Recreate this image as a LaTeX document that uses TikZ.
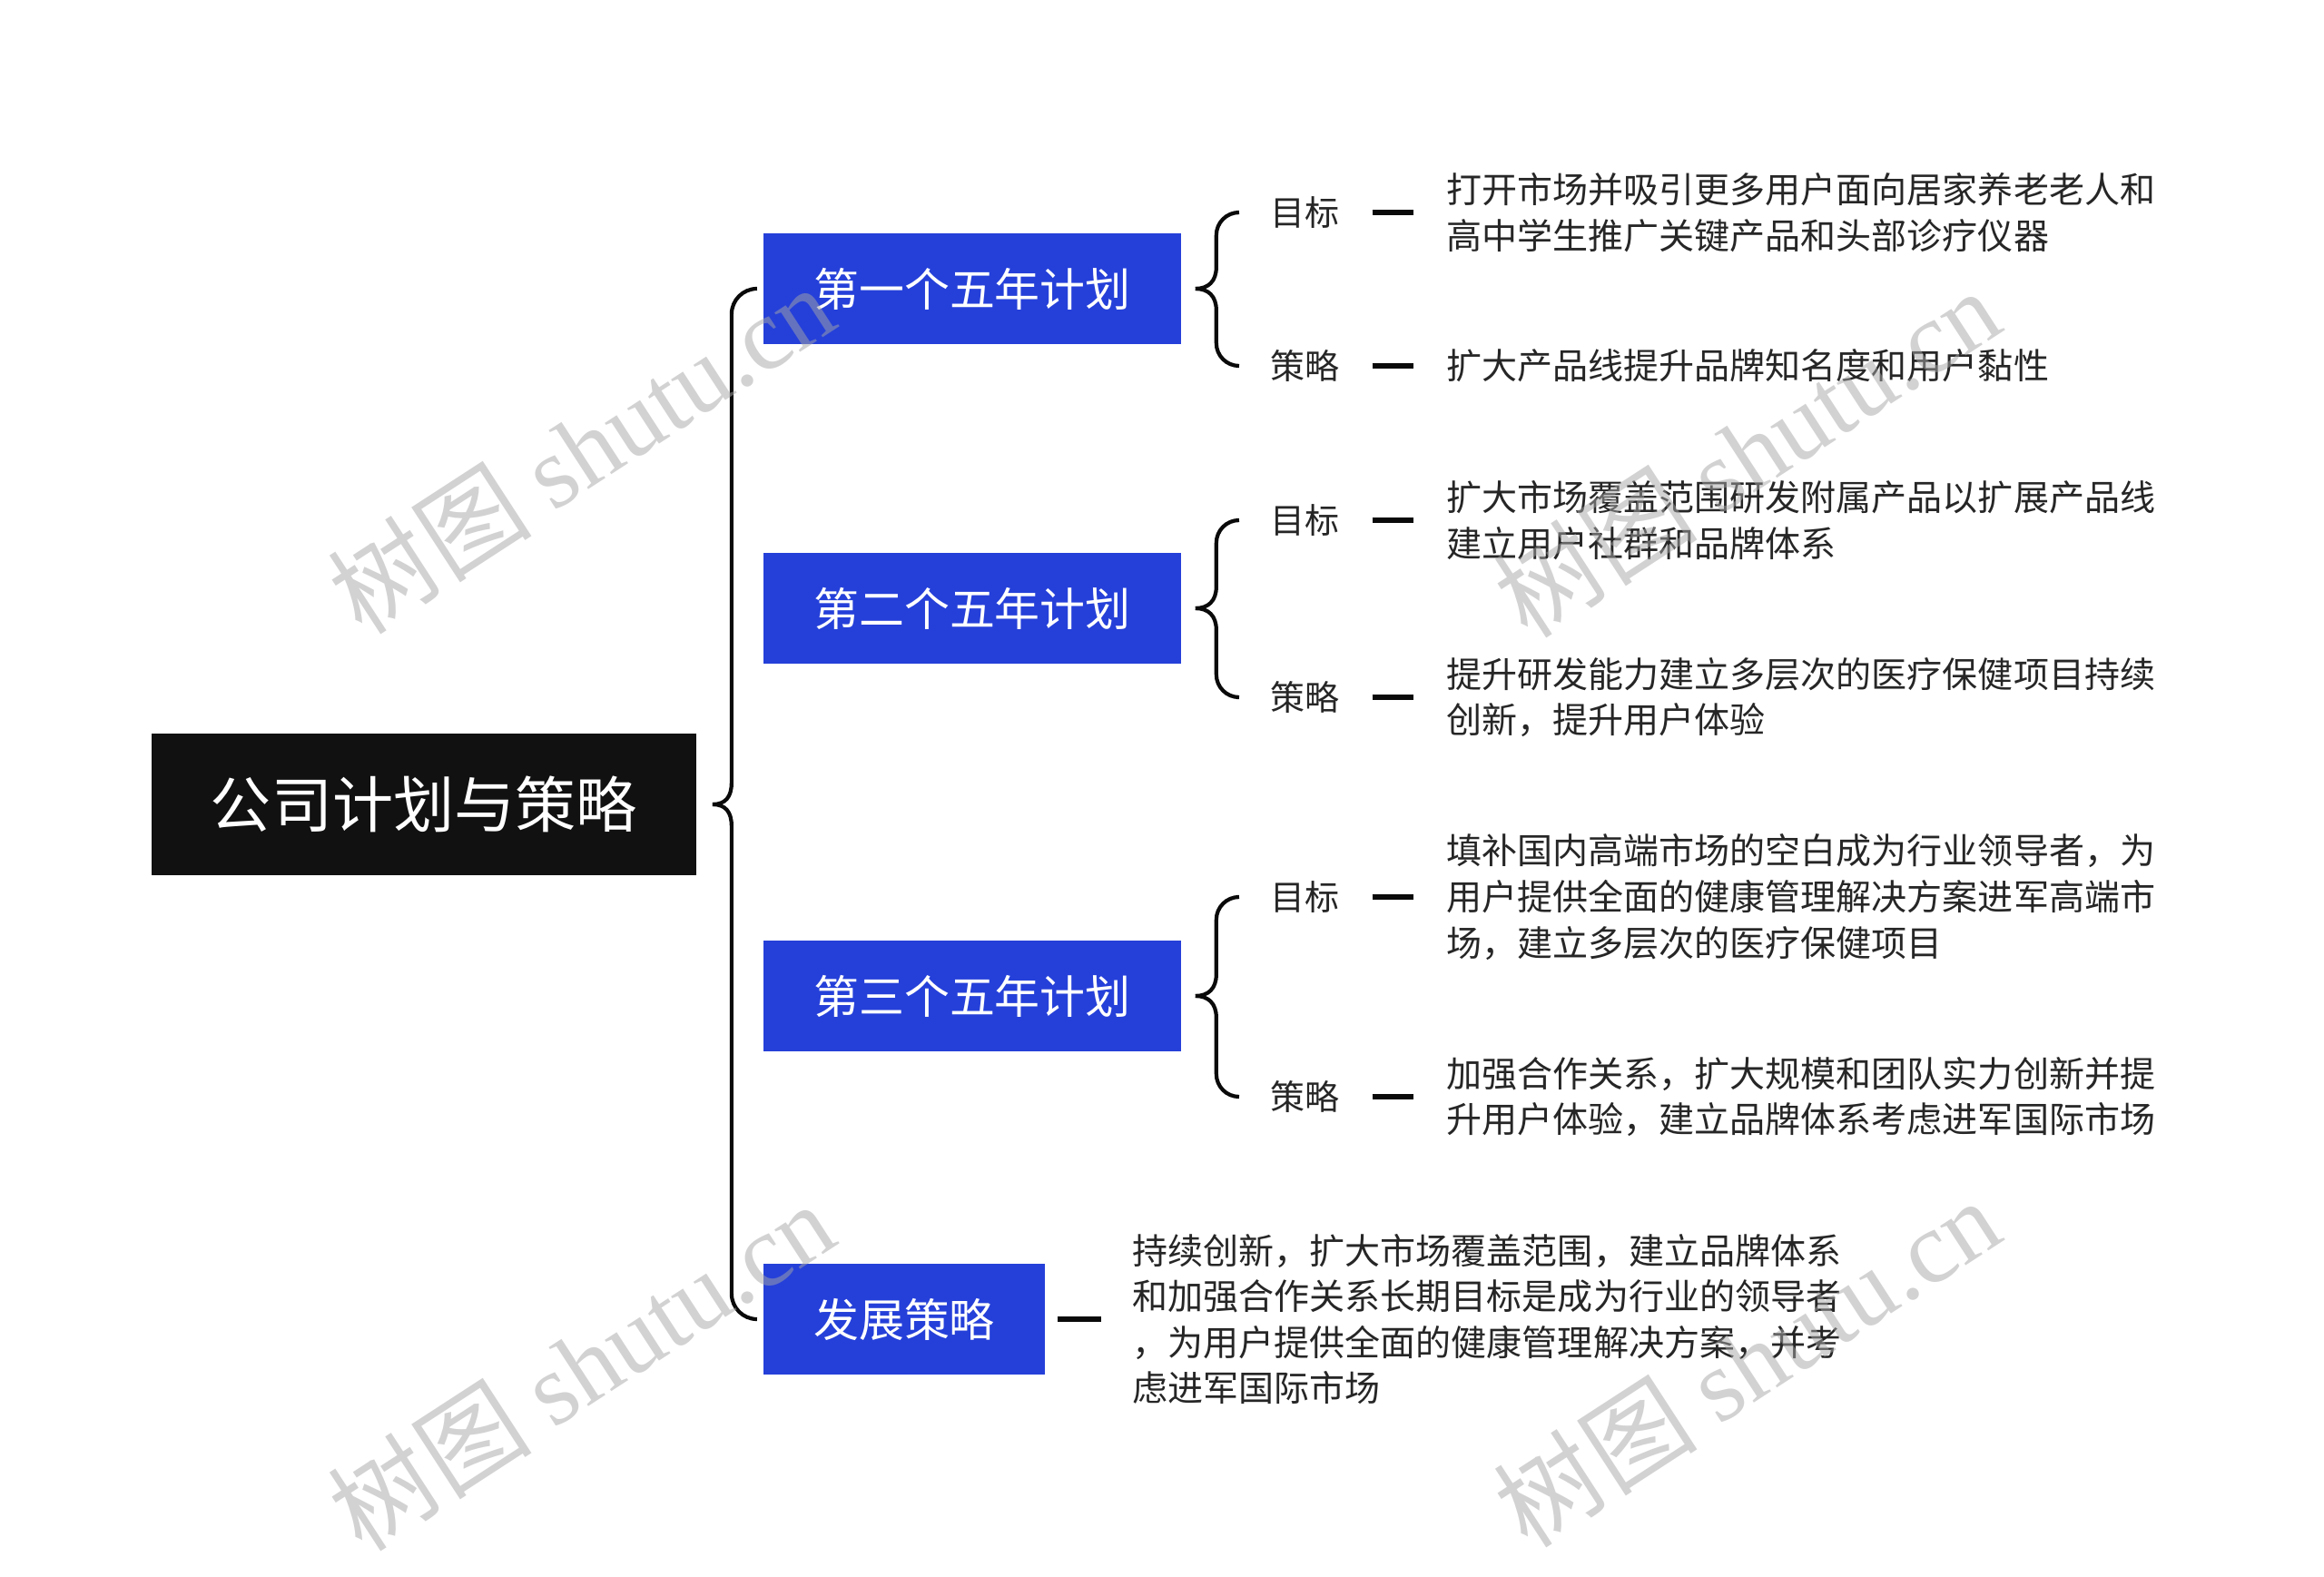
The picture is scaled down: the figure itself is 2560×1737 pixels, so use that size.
\documentclass[tikz,border=0pt]{standalone}
\usepackage{fontspec}
\setmainfont{Noto Sans CJK SC}
\newfontfamily\filigraneLatin{Liberation Serif}
\usepackage{xcolor}
\definecolor{planBleu}{HTML}{2540D9}
\definecolor{planNoir}{HTML}{111111}
\definecolor{planTexte}{HTML}{262626}
\definecolor{planTrait}{HTML}{0A0A0A}
\definecolor{planFiligrane}{HTML}{A6A6A6}
\usepackage{tikz}
\usetikzlibrary{calc, positioning}
\tikzset{
  %% ── Boxes ────────────────────────────────────────────────────────────
  %% The subject is black, the four branches share one blue, the
  %% leaves carry no box at all.
  racine/.style   = {fill=planNoir, text=white, minimum width=6cm,
                     minimum height=1.55cm, inner sep=0pt,
                     font=\fontsize{19.1pt}{23pt}\selectfont},
  plan/.style     = {fill=planBleu, text=white, minimum width=4.6cm,
                     minimum height=1.21cm, inner sep=0pt,
                     font=\fontsize{14.2pt}{17pt}\selectfont},
  %%
  %% ── Text ─────────────────────────────────────────────────────────────
  rubrique/.style = {text=planTexte, inner sep=0pt,
                     font=\fontsize{10.8pt}{13pt}\selectfont},
  feuille/.style  = {text=planTexte, inner sep=0pt, align=left,
                     font=\fontsize{11.1pt}{14.4pt}\selectfont},
  filigrane/.style = {text=planFiligrane, text opacity=0.5, rotate=33,
                     font=\fontsize{32pt}{38pt}\selectfont},
  %%
  %% ── Lines ────────────────────────────────────────────────────────────
  accolade/.style = {draw=planTrait, line width=1.2pt},
  trait/.style    = {draw=planTrait, line width=1.6pt},
}

\begin{document}
\begin{tikzpicture}[x=0.01cm, y=-0.01cm]
\path[use as bounding box] (0,0) rectangle (2560,1737);

%% Le sujet et ses quatre branches.
\node[racine] (racine) at (467, 886) {公司计划与策略};
\node[plan] (plan1) at (1071, 318) {第一个五年计划};
\node[plan] (plan2) at (1071, 670) {第二个五年计划};
\node[plan] (plan3) at (1071, 1097) {第三个五年计划};
\node[plan, minimum width=3.1cm] (dev) at (996, 1453) {发展策略};

%% Objectif et strategie de chaque plan.
\node[rubrique] (but1) at (1437, 234) {目标};
\node[rubrique] (strat1) at (1437, 403) {策略};
\node[rubrique] (but2) at (1437, 573) {目标};
\node[rubrique] (strat2) at (1437, 768) {策略};
\node[rubrique] (but3) at (1437, 988) {目标};
\node[rubrique] (strat3) at (1437, 1208) {策略};

\node[feuille, right=1.17cm of but1] (txtBut1)
     {打开市场并吸引更多用户面向居家养老老人和\\高中学生推广关键产品和头部诊疗仪器};
\node[feuille, right=1.17cm of strat1] (txtStrat1)
     {扩大产品线提升品牌知名度和用户黏性};
\node[feuille, right=1.17cm of but2] (txtBut2)
     {扩大市场覆盖范围研发附属产品以扩展产品线\\建立用户社群和品牌体系};
\node[feuille, right=1.17cm of strat2] (txtStrat2)
     {提升研发能力建立多层次的医疗保健项目持续\\创新，提升用户体验};
\node[feuille, right=1.17cm of but3] (txtBut3)
     {填补国内高端市场的空白成为行业领导者，为\\用户提供全面的健康管理解决方案进军高端市\\场，建立多层次的医疗保健项目};
\node[feuille, right=1.17cm of strat3] (txtStrat3)
     {加强合作关系，扩大规模和团队实力创新并提\\升用户体验，建立品牌体系考虑进军国际市场};
\node[feuille, right=0.95cm of dev] (txtDev)
     {持续创新，扩大市场覆盖范围，建立品牌体系\\和加强合作关系长期目标是成为行业的领导者\\，为用户提供全面的健康管理解决方案，并考\\虑进军国际市场};

%% L'accolade principale : seules les deux branches extremes ont un bout.
\coordinate (pointe) at ($(racine.east)+(17,0)$);
\foreach \c/\s in {plan1/-1, dev/1}
  \draw[accolade] (pointe) .. controls ($(pointe)+(14,0)$) and ($(pointe)+(21,\s*8)$)
        .. ($(pointe)+(21,\s*24)$) [rounded corners=0.28cm] |- ($(\c.west)+(-8,0)$);

%% Les petites accolades, une par plan.
\foreach \p/\h/\b in {plan1/but1/strat1, plan2/but2/strat2, plan3/but3/strat3} {
  \coordinate (pointe\p) at ($(\p.east)+(15,0)$);
  \foreach \r/\s in {\h/-1, \b/1}
    \draw[accolade] (pointe\p) .. controls ($(pointe\p)+(14,0)$) and ($(pointe\p)+(23,\s*8)$)
          .. ($(pointe\p)+(23,\s*24)$) [rounded corners=0.25cm] |- ($(\r.west)+(-36,0)$);
}

%% Les tirets vers les textes.
\foreach \a/\b in {but1/txtBut1, strat1/txtStrat1, but2/txtBut2, strat2/txtStrat2,
                   but3/txtBut3, strat3/txtStrat3}
  \draw[trait] ($(\a.east)+(36,0)$) -- ($(\b.west)+(-36,0)$);
\draw[trait] ($(dev.east)+(13,0)$) -- ($(txtDev.west)+(-34,0)$);

%% Filigrane.
\foreach \x/\y [count=\i] in {640/494, 1924/498, 640/1504, 1924/1500}
  \node[filigrane] (filigrane\i) at (\x, \y) {树图 {\filigraneLatin shutu.cn}};

\end{tikzpicture}
\end{document}
